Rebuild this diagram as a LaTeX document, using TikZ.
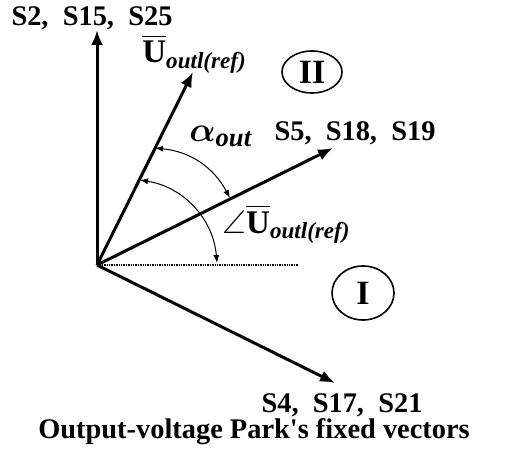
\documentclass[tikz,border=0pt]{standalone}
\usepackage{amsmath,amssymb}
\usepackage{textcomp}
\usepackage{fontspec}
\setmainfont{Liberation Serif}
\usepackage{tikz}
\usetikzlibrary{positioning,arrows.meta,shapes.geometric}

\newcommand{\Uref}{$\overline{\text{\textbf{U}}}_{\text{\textbf{\textit{outl(ref)}}}}$}

\begin{document}
\begin{tikzpicture}[x=0.5pt, y=-0.5pt,
        vec/.style={-{Latex[length=7.5pt,width=6pt]}, line width=1.5pt},
        angarc/.style={{Latex[length=4pt,width=3pt]}-{Latex[length=4pt,width=3pt]}, line width=0.5pt},
        lbl/.style={font=\fontsize{14.2}{16}\selectfont\bfseries, inner sep=0pt},
        ulbl/.style={font=\fontsize{16.5}{18}\selectfont\bfseries, inner sep=0pt, anchor=base west},
        zone/.style={ellipse, draw, line width=0.8pt, inner sep=0pt, font=\fontsize{17}{19}\selectfont\bfseries}
    ]
        \useasboundingbox (0,0) rectangle (507,454);

        % origin and vector tips
        \coordinate (o) at (97,265);
        \coordinate (s2tip) at (97,30);
        \coordinate (ureftip) at (193,72);
        \coordinate (s5tip) at (333,148);
        \coordinate (s4tip) at (335,383);
        \coordinate (axisend) at (298,265);

        \draw[line width=0.9pt, dash pattern=on 0.7pt off 0.5pt] (o) -- (axisend);
        \draw[vec] (o) -- (s2tip);
        \draw[vec] (o) -- (ureftip);
        \draw[vec] (o) -- (s5tip);
        \draw[vec] (o) -- (s4tip);

        % angle arcs
        \coordinate (a1) at (155,148);
        \coordinate (a2) at (230,198);
        \coordinate (b1) at (140,180);
        \coordinate (b2) at (217,263);
        \draw[angarc] (a1) to[bend left=28] (a2);
        \draw[angarc] (b1) to[bend left=38] (b2);

        % labels
        \node[lbl] (s2lab) at (92,18) {S2,\ \ S15,\ \ S25};
        \node[lbl] (s5lab) at (355,133) {S5,\ \ S18,\ \ S19};
        \node[lbl] (s4lab) at (342,405) {S4,\ \ S17,\ \ S21};
        \node[ulbl] (ureflab) at (142,63) {\Uref};
        \node[ulbl, font=\fontsize{19}{21}\selectfont\bfseries] (alab) at (189,141) {$\boldsymbol{\alpha}_{\text{\textbf{\textit{out}}}}$};
        \node[ulbl] (anglab) at (222,233) {$\angle$\Uref};
        \node[lbl] (caption) at (254,432) {Output-voltage Park\textquotesingle s fixed vectors};

        % sectors
        \node[zone, minimum width=30pt, minimum height=21pt] (secII) at (312,72) {II};
        \node[zone, minimum width=31pt, minimum height=27pt] (secI) at (363,293) {I};
    \end{tikzpicture}
\end{document}
